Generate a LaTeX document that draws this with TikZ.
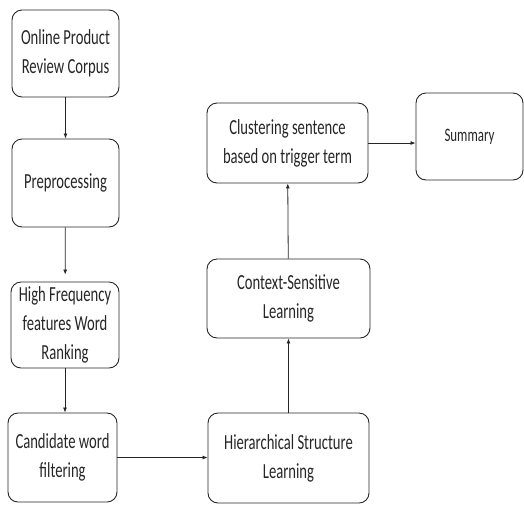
\documentclass[tikz,border=0pt]{standalone}
\usepackage{fontspec}
\setmainfont[FakeStretch=0.68]{Carlito}
\usetikzlibrary{arrows.meta}

\begin{document}
\begin{tikzpicture}[x=1pt, y=-1pt,
		stepbox/.style={draw=black!85, rounded corners=10pt, line width=0.9pt, align=center, inner sep=0pt, text=black!85, font=\fontsize{21.5}{29}\selectfont},
		flow/.style={draw=black!85, line width=0.8pt, -{Latex[length=5pt,width=4pt]}}]
			\useasboundingbox (0,0) rectangle (524,504);
			% box centres
			\coordinate (corpuscord) at (65.5, 53.5);
			\coordinate (prepcord) at (65.5, 183);
			\coordinate (rankcord) at (65, 325);
			\coordinate (filtercord) at (62.5, 457.5);
			\coordinate (hiercord) at (288.5, 458);
			\coordinate (contextcord) at (288.5, 298.5);
			\coordinate (clustercord) at (287.5, 143);
			\coordinate (summarycord) at (469.5, 136.5);

			\node[stepbox, minimum width=107pt, minimum height=87pt] (corpus) at (corpuscord) {Online Product\\Review Corpus};
			\node[stepbox, minimum width=107pt, minimum height=88pt] (prep) at (prepcord) {Preprocessing};
			\node[stepbox, minimum width=108pt, minimum height=86pt] (rank) at (rankcord) {High Frequency\\features Word\\Ranking};
			\node[stepbox, minimum width=109pt, minimum height=89pt] (filter) at (filtercord) {Candidate word\\filtering};
			\node[stepbox, minimum width=161pt, minimum height=90pt] (hier) at (hiercord) {Hierarchical Structure\\Learning};
			\node[stepbox, minimum width=163pt, minimum height=79pt] (context) at (contextcord) {Context-Sensitive\\Learning};
			\node[stepbox, minimum width=161pt, minimum height=80pt] (cluster) at (clustercord) {Clustering sentence\\based on trigger term};
			\node[stepbox, minimum width=107pt, minimum height=87pt, font=\fontsize{19}{26}\selectfont] (summary) at (summarycord) {Summary};

			\draw[flow] (corpus) -- (prep);
			\draw[flow, shorten >=7pt] (prep) -- (rank);
			\draw[flow] (rank.south) -- (rank.south |- filter.north);
			\draw[flow] (filter) -- (filter -| hier.west);
			\draw[flow] (hier) -- (context);
			\draw[flow] (context) -- (cluster);
			\draw[flow] (cluster) -- (cluster -| summary.west);
		\end{tikzpicture}
\end{document}
